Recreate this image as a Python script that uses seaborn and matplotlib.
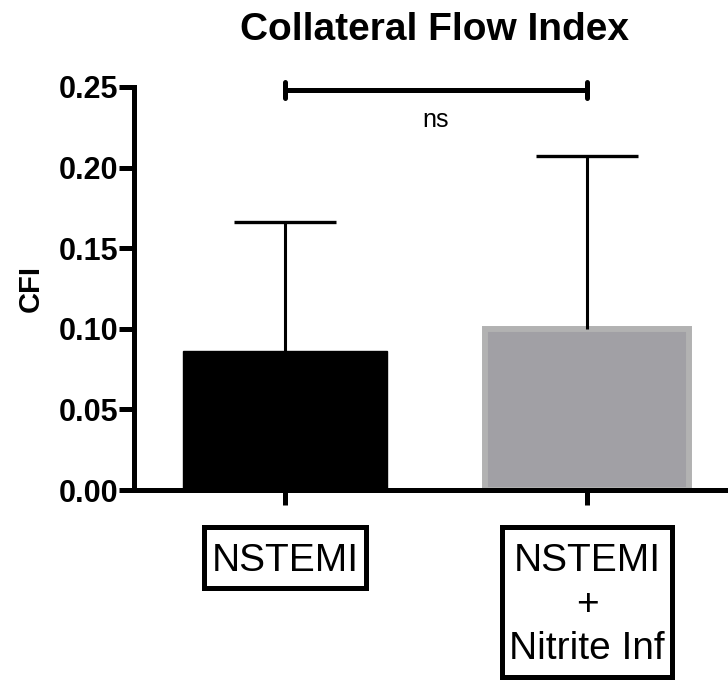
import matplotlib
matplotlib.use("Agg")
import matplotlib.pyplot as plt
from matplotlib.patches import Rectangle
import seaborn as sns
import pandas as pd

# Collateral flow index, mean and upper SD per group
groups = ["NSTEMI", "NSTEMI\n+\nNitrite Inf"]
means = [0.086, 0.100]
sd_upper = [0.080, 0.107]
fill_colors = ["#000000", "#A1A0A5"]
edge_colors = ["#000000", "#B2B2B2"]
edge_widths = [1.0, 4.3]
yticks = [0.00, 0.05, 0.10, 0.15, 0.20, 0.25]
sig_label = "ns"

sns.set_theme(style="white")
plt.rcParams["font.family"] = ["Liberation Sans", "DejaVu Sans"]
plt.rcParams["text.color"] = "black"
plt.rcParams["axes.labelcolor"] = "black"
plt.rcParams["xtick.color"] = "black"
plt.rcParams["ytick.color"] = "black"

W, H = 728, 682
df = pd.DataFrame({"group": groups, "cfi": means})

fig = plt.figure(figsize=(W / 100, H / 100), dpi=100)
ax = fig.add_axes([134 / W, 1 - 490 / H, 1 - 134 / W, (490 - 87) / H])

sns.barplot(data=df, x="group", y="cfi", hue="group", palette=fill_colors,
            legend=False, width=0.675, ax=ax, errorbar=None, saturation=1)
for patch, ec, lw in zip(ax.patches, edge_colors, edge_widths):
    patch.set_edgecolor(ec)
    patch.set_linewidth(lw)

# upper error bars only
xs = list(range(len(groups)))
eb = ax.errorbar(xs, means, yerr=[[0] * len(groups), sd_upper], fmt="none",
                 ecolor="black", elinewidth=2.2, capsize=37, capthick=2.4,
                 zorder=1)
eb[1][0].remove()  # drop the cap at the bar top

ax.set_ylim(0, 0.25)
ax.set_xlim(-0.5, 1.467)
ax.set_yticks(yticks)
ax.set_yticklabels([f"{v:.2f}" for v in yticks], fontsize=22,
                   fontweight="bold")
ax.set_ylabel("CFI", fontsize=21, fontweight="bold", labelpad=10)
ax.set_xlabel("")

for side in ["top", "right"]:
    ax.spines[side].set_visible(False)
for side in ["left", "bottom"]:
    ax.spines[side].set_linewidth(3.6)
    ax.spines[side].set_color("black")
    ax.spines[side].set_zorder(5)

ax.tick_params(axis="y", direction="out", length=11, width=3.6, pad=0.5,
               left=True)
ax.tick_params(axis="x", direction="out", length=11, width=3.6, pad=27,
               bottom=True)

ax.set_xticks(xs)
ax.set_xticklabels(groups, fontsize=28, linespacing=1.29,
                   verticalalignment="top")

# significance bracket
yb = 0.248
ax.plot([0, 1], [yb, yb], color="black", lw=3.6, clip_on=False,
        solid_capstyle="butt")
for x in [0, 1]:
    ax.plot([x, x], [yb - 0.005, yb + 0.005], color="black", lw=3.6,
            clip_on=False, solid_capstyle="round")
ax.text(0.5, yb - 0.011, sig_label, ha="center", va="top", fontsize=18)

fig.text(434.5 / W, 1 - 30 / H, "Collateral Flow Index", ha="center",
         va="center", fontsize=28, fontweight="bold")

# framed category labels
fig.canvas.draw()
renderer = fig.canvas.get_renderer()
box_lw_px = 5
for lbl in ax.get_xticklabels():
    bb = lbl.get_window_extent(renderer)
    half = box_lw_px / 2
    x0 = bb.x0 - 10 + half
    x1 = bb.x1 + 10 - half
    y0 = bb.y0 - 12 + half
    y1 = bb.y1 + 18 - half
    fig.add_artist(Rectangle((x0 / W, y0 / H), (x1 - x0) / W, (y1 - y0) / H,
                             transform=fig.transFigure, fill=False,
                             edgecolor="black", linewidth=box_lw_px * 0.72,
                             joinstyle="miter", clip_on=False))

fig.savefig("out.png", dpi=100)
